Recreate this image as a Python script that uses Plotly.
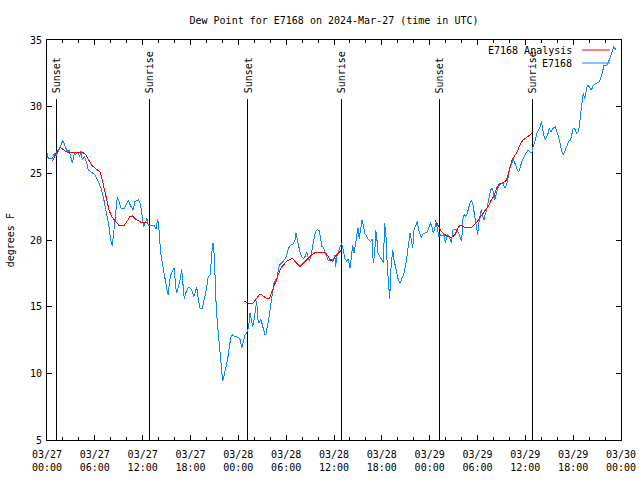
import plotly.graph_objects as go
import pandas as pd

BASE = pd.Timestamp("2024-03-27 00:00")

# Observed dew point (hours since 03/27 00:00 UTC, degrees F)
obs_hours = [0.0, 0.16, 0.66, 0.92, 1.13, 1.51, 1.76, 1.97, 2.17, 2.35, 2.60, 2.76, 3.01, 3.17, 3.42, 3.60, 3.85, 4.10, 4.26, 4.43, 4.68, 4.93, 5.18, 5.61, 6.02, 6.43, 6.77, 7.06, 7.28, 7.61, 7.78, 7.99, 8.19, 8.40, 8.62, 8.82, 9.03, 9.28, 9.70, 10.20, 10.54, 10.79, 11.04, 11.45, 11.70, 11.95, 12.13, 12.38, 12.54, 12.71, 12.96, 13.46, 13.67, 13.89, 13.96, 14.09, 14.26, 14.46, 14.68, 14.89, 15.05, 15.22, 15.39, 15.59, 15.81, 15.97, 16.14, 16.27, 16.47, 16.72, 16.90, 17.06, 17.22, 17.40, 17.65, 17.90, 18.15, 18.40, 18.56, 18.78, 18.98, 19.19, 19.48, 19.73, 19.98, 20.23, 20.48, 20.66, 20.82, 20.99, 21.11, 21.24, 21.41, 21.58, 21.74, 21.91, 22.04, 22.24, 22.45, 22.67, 22.87, 23.08, 23.29, 23.58, 24.00, 24.25, 24.42, 24.59, 24.84, 25.05, 25.25, 25.30, 25.46, 25.63, 25.80, 25.97, 26.13, 26.30, 26.47, 26.63, 26.81, 26.97, 27.13, 27.31, 27.47, 27.63, 27.81, 27.97, 28.14, 28.31, 28.47, 28.64, 28.81, 28.98, 29.14, 29.39, 29.64, 29.89, 30.07, 30.32, 30.57, 30.90, 31.11, 31.23, 31.40, 31.57, 31.74, 31.95, 32.15, 32.40, 32.58, 32.74, 32.90, 33.08, 33.24, 33.40, 33.66, 33.91, 34.16, 34.33, 34.50, 34.66, 34.91, 35.09, 35.25, 35.50, 35.75, 35.91, 36.09, 36.21, 36.34, 36.50, 36.67, 36.84, 36.97, 37.17, 37.38, 37.59, 37.79, 38.01, 38.17, 38.35, 38.51, 38.67, 38.85, 39.01, 39.17, 39.35, 39.51, 39.68, 39.85, 40.10, 40.35, 40.60, 40.77, 40.93, 41.11, 41.23, 41.36, 41.52, 41.77, 42.02, 42.19, 42.36, 42.52, 42.69, 42.86, 42.99, 43.11, 43.24, 43.36, 43.53, 43.69, 43.87, 44.07, 44.28, 44.53, 44.78, 45.03, 45.28, 45.53, 45.70, 45.87, 46.04, 46.29, 46.45, 46.63, 46.79, 46.95, 47.20, 47.63, 47.88, 48.13, 48.29, 48.46, 48.63, 48.80, 48.96, 49.13, 49.30, 49.55, 49.80, 49.96, 50.14, 50.30, 50.46, 50.72, 50.89, 51.14, 51.39, 51.64, 51.89, 52.02, 52.15, 52.31, 52.47, 52.72, 52.97, 53.22, 53.40, 53.56, 53.73, 53.90, 54.03, 54.15, 54.32, 54.48, 54.66, 54.82, 54.98, 55.16, 55.32, 55.49, 55.66, 55.82, 55.98, 56.16, 56.32, 56.49, 56.66, 56.91, 57.24, 57.41, 57.66, 57.83, 57.99, 58.17, 58.33, 58.49, 58.67, 58.83, 58.99, 59.17, 59.33, 59.58, 59.83, 60.09, 60.34, 60.59, 60.75, 60.84, 61.01, 61.26, 61.43, 61.64, 61.85, 62.01, 62.19, 62.35, 62.51, 62.69, 62.85, 63.01, 63.19, 63.35, 63.51, 63.76, 63.94, 64.10, 64.26, 64.44, 64.60, 64.77, 64.94, 65.19, 65.44, 65.69, 65.86, 66.02, 66.27, 66.45, 66.61, 66.77, 66.95, 67.11, 67.27, 67.45, 67.61, 67.78, 68.03, 68.28, 68.53, 68.87, 69.20, 69.53, 69.87, 70.21, 70.46, 70.62, 70.87, 71.12, 71.37]
obs_dewpt = [26.5, 26.1, 26.1, 26.5, 26.3, 26.75, 27.1, 27.45, 27.25, 26.9, 26.6, 26.75, 26.25, 25.75, 26.5, 26.4, 26.6, 26.25, 26.7, 26.0, 26.25, 25.9, 25.25, 25.1, 24.9, 24.4, 23.9, 23.25, 22.6, 21.75, 21.0, 20.0, 19.55, 20.75, 22.25, 23.25, 22.9, 22.4, 22.4, 22.95, 22.5, 22.25, 22.9, 23.0, 22.75, 21.75, 21.0, 21.4, 21.6, 21.1, 21.05, 21.1, 20.8, 21.6, 21.25, 20.5, 19.0, 18.25, 17.6, 16.9, 16.25, 15.9, 17.0, 17.5, 17.75, 17.9, 16.5, 16.0, 16.5, 17.1, 17.8, 16.75, 15.55, 16.0, 16.4, 16.45, 16.25, 15.75, 16.05, 16.45, 15.6, 14.9, 14.9, 15.5, 16.25, 17.25, 17.4, 19.0, 19.8, 18.75, 16.5, 14.75, 13.5, 12.25, 11.0, 10.0, 9.4, 9.9, 10.5, 11.1, 12.0, 12.75, 12.9, 12.75, 12.7, 12.5, 11.9, 12.25, 12.9, 13.0, 13.4, 13.5, 14.5, 14.0, 13.5, 14.0, 14.75, 15.4, 14.0, 13.75, 14.1, 13.75, 13.25, 12.95, 12.95, 13.4, 14.1, 14.75, 15.4, 16.1, 16.75, 17.0, 16.9, 17.6, 18.1, 18.25, 18.4, 18.6, 18.9, 19.4, 19.6, 19.7, 20.0, 20.5, 20.0, 19.4, 19.1, 18.75, 18.6, 18.8, 19.1, 18.75, 18.4, 18.75, 19.25, 20.0, 20.6, 20.8, 20.7, 20.1, 19.5, 19.45, 19.0, 18.75, 18.5, 18.45, 18.55, 18.4, 18.9, 18.0, 18.75, 19.0, 19.4, 19.6, 19.75, 19.1, 18.6, 18.4, 18.6, 17.9, 18.75, 19.6, 19.0, 19.6, 20.6, 20.9, 20.1, 20.9, 21.5, 21.1, 20.5, 20.3, 20.0, 19.9, 20.05, 18.25, 19.0, 20.75, 20.25, 19.0, 18.75, 18.5, 18.3, 21.25, 20.25, 18.0, 16.25, 15.55, 17.6, 18.5, 19.25, 18.5, 18.0, 17.5, 17.0, 16.75, 17.1, 17.5, 18.25, 19.4, 20.5, 20.0, 19.4, 20.75, 21.1, 21.4, 20.75, 20.5, 20.2, 20.5, 20.55, 20.9, 21.3, 21.0, 20.5, 20.9, 21.25, 20.9, 20.25, 20.4, 20.3, 20.4, 19.75, 20.25, 20.4, 20.25, 19.75, 20.75, 20.8, 20.75, 20.5, 20.1, 19.9, 21.5, 21.9, 21.75, 22.0, 22.6, 23.0, 22.75, 22.1, 21.5, 21.1, 20.4, 21.25, 21.75, 22.3, 21.75, 21.5, 22.0, 22.25, 22.8, 23.4, 23.75, 23.9, 23.6, 23.0, 23.4, 23.75, 24.0, 24.25, 24.25, 23.9, 24.1, 24.9, 25.25, 25.6, 25.75, 26.1, 25.75, 25.5, 25.25, 25.1, 25.5, 25.9, 26.25, 26.5, 26.75, 26.6, 26.6, 26.6, 27.1, 27.5, 28.0, 28.25, 28.5, 28.9, 28.25, 27.75, 27.5, 27.75, 28.0, 28.4, 28.1, 28.25, 28.4, 28.5, 28.25, 27.9, 27.5, 27.0, 26.6, 26.4, 26.6, 27.0, 27.4, 27.5, 28.0, 28.4, 28.25, 28.0, 28.1, 28.5, 29.5, 30.1, 31.0, 30.6, 31.1, 31.6, 31.5, 31.25, 31.6, 31.75, 31.8, 32.25, 33.1, 33.1, 33.4, 33.75, 34.1, 34.5, 34.25]

# Analysis (night-time segments)
ana1_hours = [0.66, 1.22, 1.63, 2.04, 2.47, 3.10, 3.73, 4.55, 4.85, 5.18, 5.61, 6.02, 6.43, 6.69, 6.94, 7.19, 7.49, 7.78, 8.12, 8.44, 8.74, 9.03, 9.70, 10.12, 10.41, 10.70, 11.04, 11.45, 11.88, 12.29, 12.71]
ana1_dewpt = [25.9, 26.6, 26.95, 26.8, 26.6, 26.6, 26.6, 26.55, 26.4, 26.0, 25.6, 25.4, 25.25, 25.1, 24.5, 23.75, 22.9, 22.25, 21.75, 21.5, 21.25, 21.1, 21.1, 21.5, 21.75, 21.8, 21.6, 21.45, 21.3, 21.3, 21.25]
ana2_hours = [24.71, 25.13, 25.55, 25.88, 26.30, 26.72, 27.13, 27.56, 27.89, 28.19, 28.39, 28.73, 29.06, 29.32, 29.64, 30.07, 30.48, 30.82, 31.11, 31.40, 31.74, 32.07, 32.40, 32.78, 33.20, 33.62, 34.03, 34.66, 35.00, 35.29, 35.59, 35.84, 36.13, 36.54, 36.84]
ana2_dewpt = [15.4, 15.3, 15.2, 15.3, 15.6, 15.95, 15.8, 15.6, 15.6, 16.1, 16.5, 17.0, 17.5, 17.9, 18.1, 18.4, 18.55, 18.6, 18.4, 18.2, 18.0, 18.2, 18.4, 18.6, 18.9, 19.05, 19.1, 19.1, 19.0, 18.75, 18.45, 18.4, 18.75, 19.0, 19.2]
ana3_hours = [48.67, 49.08, 49.51, 49.92, 50.34, 50.76, 51.18, 51.59, 51.81, 52.22, 52.65, 53.27, 53.81, 54.10, 54.40, 54.73, 55.07, 55.41, 55.73, 56.07, 56.41, 56.74, 57.16, 57.58, 57.83, 58.08, 58.33, 58.59, 58.92, 59.17, 59.42, 59.71, 60.21, 60.54, 60.83]
ana3_dewpt = [21.5, 21.0, 20.6, 20.4, 20.25, 20.2, 20.4, 20.95, 21.1, 21.0, 20.9, 20.95, 21.25, 21.5, 21.75, 22.05, 22.3, 22.6, 23.0, 23.3, 23.9, 24.2, 24.3, 24.45, 24.9, 25.5, 26.0, 26.25, 26.55, 26.9, 27.25, 27.5, 27.7, 27.9, 28.0]

# Sun events (UTC)
sun_times = ["2024-03-27 01:08", "2024-03-27 12:48", "2024-03-28 01:12",
             "2024-03-28 12:53", "2024-03-29 01:11", "2024-03-29 12:51"]
sun_labels = ["Sunset", "Sunrise", "Sunset", "Sunrise", "Sunset", "Sunrise"]
SUN_LINE_TOP = 30.6

# Axis ticks
tick_times = ["2024-03-27 00:00", "2024-03-27 06:00", "2024-03-27 12:00", "2024-03-27 18:00",
              "2024-03-28 00:00", "2024-03-28 06:00", "2024-03-28 12:00", "2024-03-28 18:00",
              "2024-03-29 00:00", "2024-03-29 06:00", "2024-03-29 12:00", "2024-03-29 18:00",
              "2024-03-30 00:00"]
tick_labels = ["03/27<br>00:00", "03/27<br>06:00", "03/27<br>12:00", "03/27<br>18:00",
               "03/28<br>00:00", "03/28<br>06:00", "03/28<br>12:00", "03/28<br>18:00",
               "03/29<br>00:00", "03/29<br>06:00", "03/29<br>12:00", "03/29<br>18:00",
               "03/30<br>00:00"]


def to_time(hours):
    return [BASE + pd.Timedelta(hours=h) for h in hours]


FONT = "DejaVu Sans Mono"
RED = "#ff0000"
BLUE = "#0a88ff"

ana_x = to_time(ana1_hours) + [None] + to_time(ana2_hours) + [None] + to_time(ana3_hours)
ana_y = ana1_dewpt + [None] + ana2_dewpt + [None] + ana3_dewpt

sun_x, sun_y = [], []
for t in sun_times:
    sun_x += [pd.Timestamp(t), pd.Timestamp(t), None]
    sun_y += [5, SUN_LINE_TOP, None]

fig = go.Figure()
fig.add_trace(go.Scatter(x=sun_x, y=sun_y, mode="lines",
                         line=dict(color="black", width=1), showlegend=False, hoverinfo="skip"))
fig.add_trace(go.Scatter(x=to_time(obs_hours), y=obs_dewpt, mode="lines", name="E7168",
                         line=dict(color=BLUE, width=1), showlegend=False))
fig.add_trace(go.Scatter(x=ana_x, y=ana_y, mode="lines", name="E7168 Analysis",
                         line=dict(color=RED, width=1), showlegend=False, connectgaps=False))

annotations = []
for t, lab in zip(sun_times, sun_labels):
    annotations.append(dict(x=pd.Timestamp(t), y=SUN_LINE_TOP + 0.25, xref="x", yref="y",
                            text=lab, textangle=-90, showarrow=False,
                            xanchor="center", yanchor="bottom",
                            font=dict(family=FONT, size=10, color="black")))

# gnuplot-style key (text left of sample line), top right inside the plot
key_items = [("E7168 Analysis", RED, 0.975), ("E7168", BLUE, 0.9425)]
shapes = []
for text, col, ypos in key_items:
    annotations.append(dict(x=0.918, y=ypos, xref="paper", yref="paper", text=text,
                            showarrow=False, xanchor="right", yanchor="middle",
                            font=dict(family=FONT, size=10, color="black")))
    shapes.append(dict(type="line", xref="paper", yref="paper", x0=0.932, x1=0.981,
                       y0=ypos, y1=ypos, line=dict(color=col, width=1)))

annotations.append(dict(x=-0.064, y=0.5, xref="paper", yref="paper", text="degrees F",
                        textangle=-90, showarrow=False, xanchor="center", yanchor="middle",
                        font=dict(family=FONT, size=10, color="black")))

fig.update_layout(
    width=640, height=480,
    margin=dict(l=47, r=19, t=40, b=40, autoexpand=False),
    paper_bgcolor="white", plot_bgcolor="white",
    font=dict(family=FONT, size=10, color="black"),
    title=dict(text="Dew Point for E7168 on 2024-Mar-27 (time in UTC)",
               x=0.5, xref="paper", xanchor="center", y=1 - 20 / 480, yanchor="middle",
               font=dict(family=FONT, size=10, color="black")),
    showlegend=False,
    annotations=annotations,
    shapes=shapes,
)
fig.update_xaxes(
    type="date", range=["2024-03-27 00:00", "2024-03-30 00:00"],
    tickmode="array", tickvals=tick_times, ticktext=tick_labels,
    ticks="inside", ticklen=5, tickcolor="black", tickwidth=1,
    minor=dict(ticks="inside", ticklen=3, dtick=2 * 3600 * 1000, tick0="2024-03-27 00:00",
               tickcolor="black", showgrid=False),
    showline=True, linecolor="black", linewidth=1, mirror="allticks",
    showgrid=False, zeroline=False, tickfont=dict(family=FONT, size=10),
    ticklabelstandoff=5, automargin=False,
)
fig.update_yaxes(
    range=[5, 35], dtick=5, tick0=5,
    ticks="inside", ticklen=5, tickcolor="black", tickwidth=1,
    showline=True, linecolor="black", linewidth=1, mirror="allticks",
    showgrid=False, zeroline=False, tickfont=dict(family=FONT, size=10),
    ticklabelstandoff=2, automargin=False,
)

post = (
    "document.body.style.margin='0';document.body.style.padding='0';"
    "document.querySelectorAll('.scatterlayer path.js-line').forEach(function(p){"
    "p.style.shapeRendering='crispEdges';});"
)
fig.write_html("out.html", config={"displayModeBar": False}, post_script=post)
